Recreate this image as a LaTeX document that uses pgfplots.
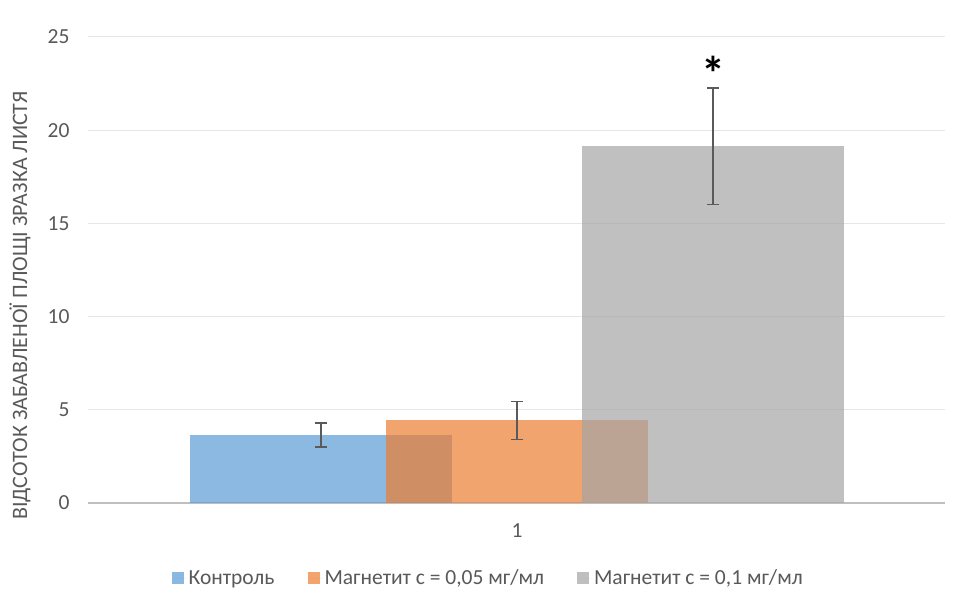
\documentclass[border=0pt]{standalone}
\usepackage{fontspec}
\setmainfont{Carlito}
\usepackage{pgfplots}
\pgfplotsset{compat=1.18}
\definecolor{cblue}{HTML}{5B9BD5}
\definecolor{corange}{HTML}{ED7D31}
\definecolor{cgray}{HTML}{A5A5A5}
\definecolor{txt}{HTML}{595959}
\definecolor{gridc}{HTML}{E6E6E6}
\definecolor{axisc}{HTML}{BFBFBF}
\definecolor{errc}{HTML}{5A5A5A}
\begin{document}
\begin{tikzpicture}[x=1pt,y=1pt]
\useasboundingbox (0,0) rectangle (960,595);
\begin{axis}[
  at={(88pt,92pt)}, anchor=south west,
  scale only axis, width=857pt, height=466pt,
  xmin=-0.0944, xmax=2.0918, ymin=0, ymax=25,
  ybar, bar width=0.668,
  axis line style={draw=none},
  ytick={5,10,...,25},
  extra y ticks={0},
  extra y tick style={grid style={axisc, line width=2pt}},
  ymajorgrids, grid style={gridc, line width=1pt},
  major tick length=0pt,
  xtick={1}, xticklabels={1},
  tick label style={font=\fontsize{21.5}{22}\selectfont, text=txt},
  /pgf/number format/assume math mode=true,
  yticklabel style={xshift=-15pt},
  xticklabel style={yshift=-17pt},
  ylabel={ВІДСОТОК ЗАБАВЛЕНОЇ ПЛОЩІ ЗРАЗКА ЛИСТЯ},
  ylabel style={at={(axis description cs:-0.0793,0.4238)}, anchor=center,
    font=\fontsize{22}{22}\selectfont, text=txt},
  legend columns=3,
  legend style={draw=none, at={(axis description cs:0.467,-0.161)}, anchor=center,
    font=\fontsize{21.5}{22}\selectfont, text=txt,
    nodes={inner xsep=2pt},
    /tikz/every even column/.append style={column sep=31pt}},
  legend image code/.code={%
    \fill[#1, draw=none] (0pt,-6pt) rectangle (12pt,6pt);
    \path (0pt,0pt) -- (15pt,0pt);},
  error bars/error bar style={line width=1.3pt, errc},
  error bars/error mark options={line width=1.3pt, mark size=6pt, rotate=90, errc},
]
\addplot[bar shift=0pt, fill=cblue, fill opacity=0.7, draw=none,
  error bars/.cd, y dir=both, y explicit]
  coordinates {(0.5,3.65) +- (0,0.645)};
\addlegendentry{Контроль}
\addplot[bar shift=0pt, fill=corange, fill opacity=0.7, draw=none,
  error bars/.cd, y dir=both, y explicit]
  coordinates {(1.0,4.43) +- (0,1.02)};
\addlegendentry{Магнетит с = 0,05 мг/мл}
\addplot[bar shift=0pt, fill=cgray, fill opacity=0.7, draw=none,
  error bars/.cd, y dir=both, y explicit]
  coordinates {(1.5,19.14) +- (0,3.12)};
\addlegendentry{Магнетит с = 0,1 мг/мл}
\node[font=\fontsize{48}{48}\selectfont\bfseries, text=black] at (axis cs:1.5,23.05) {*};
\end{axis}
\end{tikzpicture}
\end{document}
